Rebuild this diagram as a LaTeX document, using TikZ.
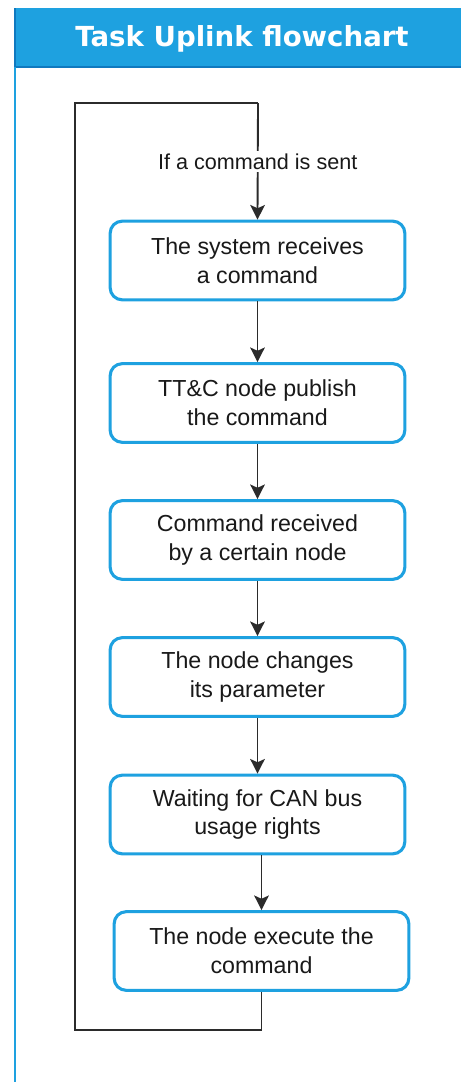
\documentclass[tikz,border=0pt]{standalone}
\usepackage{fontspec}
\setmainfont{Liberation Sans}
\newfontfamily\titlefont{DejaVu Sans}
\usetikzlibrary{arrows.meta}
\definecolor{hdrblue}{HTML}{1EA1E0}
\definecolor{hdrline}{HTML}{1079BF}
\definecolor{boxblue}{HTML}{1EA1E0}
\definecolor{linegray}{HTML}{2B2B2B}
\tikzset{
  stepbox/.style={draw=boxblue, line width=2.3pt, rounded corners=9pt, fill=white,
    minimum width=221pt, minimum height=59pt, align=center, font=\fontsize{17.4}{21.5}\selectfont, text=black!90},
  flow/.style={draw=linegray, line width=1.4pt},
  flowarrow/.style={flow, -{Stealth[length=11pt, width=11pt, inset=2.5pt]}},
}
\begin{document}
\begin{tikzpicture}[x=0.75pt, y=-0.75pt] % {{{
\useasboundingbox (0,0) rectangle (461,1082);
% Frame and title {{{
\fill[hdrblue] (15,8) rectangle (461,67);
\draw[hdrline, line width=1.5pt] (15,67) -- (461,67);
\draw[hdrline, line width=1.5pt] (15,8) -- (15,67);
\draw[boxblue, line width=1.5pt] (15,67) -- (15,1082);
\node[text=white, font=\titlefont\bfseries\fontsize{20.7}{24}\selectfont] (title) at (242,39) {Task Uplink flowchart};
% }}}
% Steps {{{
\node[stepbox] (recv) at (257.5,260.5) {The system receives\\a command};
\node[stepbox] (publish) at (257.5,403) {TT\&C node publish\\the command};
\node[stepbox] (target) at (257.5,540) {Command received\\by a certain node};
\node[stepbox] (change) at (257.5,677) {The node changes\\its parameter};
\node[stepbox] (wait) at (257.5,814.5) {Waiting for CAN bus\\usage rights};
\node[stepbox] (exec) at (261.5,951) {The node execute the\\command};
% }}}
% Loop back {{{
\coordinate (loopbl) at (75,1030);
\coordinate (looptl) at (75,103);
\coordinate (looptr) at (258,103);
\draw[flow] (exec.south) |- (loopbl) -- (looptl) -- (looptr);
\draw[flowarrow] (looptr) -- (recv.north)
  node[pos=0.5, fill=white, inner sep=2pt, text=black!90, font=\fontsize{16.2}{19}\selectfont] (cond) {If a command is sent};
% }}}
% Arrows {{{
\foreach \a/\b in {recv/publish, publish/target, target/change, change/wait} {
  \draw[flowarrow] (\a.south) -- (\b.north);
}
\draw[flowarrow] (wait.south -| exec.north) -- (exec.north);
% }}}
\end{tikzpicture} % }}}
\end{document}
